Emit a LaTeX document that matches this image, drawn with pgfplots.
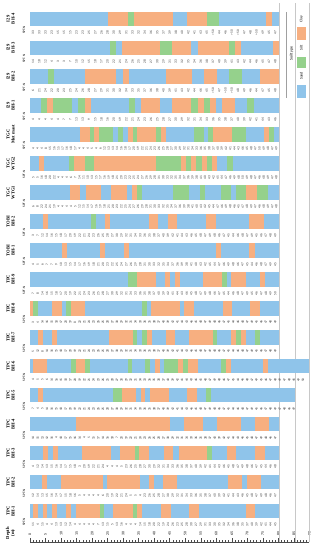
\documentclass[border=0pt]{standalone}
\usepackage{fontspec}
\setmainfont{Liberation Serif}
\newfontfamily\calfont{Carlito}
\usepackage{pgfplots}
\pgfplotsset{compat=1.18}
\definecolor{sandc}{HTML}{8FC4EA}
\definecolor{siltc}{HTML}{95D18C}
\definecolor{clayc}{HTML}{F7AF80}
\definecolor{gridc}{HTML}{C8C8C8}
\newcommand\sptfont{\calfont\fontsize{3.4}{3.6}\selectfont}
\newcommand\lblfont{\bfseries\fontsize{4.6}{5}\selectfont}
\newcommand\smallfont{\calfont\fontsize{3.8}{4}\selectfont}
\pgfplotsset{seg/.style={line width=14.5pt, line cap=butt, unbounded coords=jump, mark=none, forget plot}}
\tikzset{rowlab/.style={rotate=90, align=center, font=\lblfont, inner sep=0pt},
  sptlab/.style={rotate=90, font=\calfont\fontsize{3.4}{3.6}\selectfont, inner sep=0pt},
  legtxt/.style={rotate=90, font=\calfont\fontsize{3.8}{4}\selectfont, inner sep=0pt}}
% #1 row, #2 spacing, #3 first depth, #4 end depth, #5 values
\newcommand{\spt}[5]{%
 \addplot[only marks, mark=none, forget plot, nodes near coords, point meta=explicit symbolic,
   restrict x to domain=0:#4,
   nodes near coords style={rotate=90, anchor=center, font=\sptfont, inner sep=0pt, text=black!80}]
   table[x expr=\coordindex*#2+#3, y expr=#1-0.48, meta=n, row sep=\\]{n\\#5};}
\newcommand{\rl}[2]{\node[rowlab] at (axis cs:-6.28,#1) {#2};\node[sptlab] at (axis cs:-1.93,#1-0.38) {SPT-N};}
\begin{document}
\begin{tikzpicture}
\begin{axis}[
  scale only axis, width=279.3pt, height=537pt,
  xmin=0, xmax=90, ymin=-0.07, ymax=18.48,
  clip=false,
  axis x line*=bottom, axis y line=none,
  x axis line style={-, line width=0.4pt, black!70},
  xtick={0,5,...,90}, minor x tick num=4,
  xtick align=inside,
  major tick length=4pt, minor tick length=2.3pt,
  every tick/.style={black!70, line width=0.35pt},
  xticklabel style={rotate=90, anchor=west, font=\smallfont, inner sep=0.5pt},
  xticklabel shift=-6pt,
  /pgf/number format/assume math mode=true,
]
% grid lines
\addplot[gridc, line width=0.4pt, mark=none, forget plot, unbounded coords=jump] coordinates {
 (80.3,-0.07) (80.3,18.55) (nan,nan) (85.4,-0.07) (85.4,18.55) (nan,nan) (90,-0.07) (90,18.55)};
% base sand bars (full borehole length)
\addplot[seg, sandc] coordinates {
 (0,18)(80.3,18)(nan,nan)(0,17)(80.3,17)(nan,nan)(0,16)(80.3,16)(nan,nan)(0,15)(80.3,15)(nan,nan)
 (0,14)(80.3,14)(nan,nan)(0,13)(80.3,13)(nan,nan)(0,12)(80.3,12)(nan,nan)(0,11)(80.3,11)(nan,nan)
 (0,10)(80.3,10)(nan,nan)(0,9)(80.3,9)(nan,nan)(0,8)(80.3,8)(nan,nan)(0,7)(80.3,7)(nan,nan)
 (0,6)(90,6)(nan,nan)(0,5)(85.4,5)(nan,nan)(0,4)(80.3,4)(nan,nan)(0,3)(80.3,3)(nan,nan)
 (0,2)(80.3,2)(nan,nan)(0,1)(80.3,1)
};
% clay
\addplot[seg, clayc] coordinates {
 (25,18)(31.5,18)(nan,nan)(33.4,18)(46.2,18)(nan,nan)(50.5,18)(56.9,18)(nan,nan)(75.9,18)(78.1,18)(nan,nan)
 (29.8,17)(41.9,17)(nan,nan)(45.9,17)(52,17)(nan,nan)(54,17)(64.1,17)(nan,nan)(66.1,17)(68.1,17)(nan,nan)(78.2,17)(80.3,17)(nan,nan)
 (17.7,16)(27.8,16)(nan,nan)(29.9,16)(31.9,16)(nan,nan)(43.9,16)(52.1,16)(nan,nan)(56,16)(60.3,16)(nan,nan)(74,16)(80.3,16)(nan,nan)
 (5.6,15)(7.5,15)(nan,nan)(17.7,15)(19.7,15)(nan,nan)(35.9,15)(41.9,15)(nan,nan)(45.9,15)(52,15)(nan,nan)(54,15)(56.1,15)(nan,nan)(57.9,15)(60,15)(nan,nan)(61.7,15)(66.2,15)(nan,nan)
 (16.1,14)(19.3,14)(nan,nan)(20.7,14)(22.3,14)(nan,nan)(31.6,14)(33.1,14)(nan,nan)(34.6,14)(40.6,14)(nan,nan)(42.2,14)(43.7,14)(nan,nan)(58.9,14)(65,14)(nan,nan)(75.4,14)(77,14)(nan,nan)
 (2.9,13)(4.5,13)(nan,nan)(14.2,13)(17.7,13)(nan,nan)(20.7,13)(40.6,13)(nan,nan)(48.7,13)(50.1,13)(nan,nan)(51.9,13)(53.6,13)(nan,nan)(55.3,13)(57,13)(nan,nan)(58.6,13)(60.3,13)(nan,nan)
 (12.9,12)(16.2,12)(nan,nan)(17.9,12)(22.9,12)(nan,nan)(26.1,12)(31.3,12)(nan,nan)(32.9,12)(34.6,12)(nan,nan)(69.7,12)(73.1,12)(nan,nan)
 (4.2,11)(5.7,11)(nan,nan)(24.2,11)(25.9,11)(nan,nan)(38.2,11)(41.2,11)(nan,nan)(44.4,11)(47.5,11)(nan,nan)(56.8,11)(59.9,11)(nan,nan)(70.7,11)(75.4,11)(nan,nan)
 (10.4,10)(12,10)(nan,nan)(22.7,10)(24.3,10)(nan,nan)(30.4,10)(32,10)(nan,nan)(59.8,10)(61.5,10)(nan,nan)(70.7,10)(72.5,10)(nan,nan)
 (34.6,9)(40.6,9)(nan,nan)(43.6,9)(45.2,9)(nan,nan)(46.7,9)(48.2,9)(nan,nan)(55.7,9)(61.9,9)(nan,nan)(64.9,9)(69.5,9)(nan,nan)(74,9)(75.6,9)(nan,nan)
 (0,8)(1.1,8)(nan,nan)(7.1,8)(10.2,8)(nan,nan)(13.1,8)(17.7,8)(nan,nan)(39.1,8)(48.2,8)(nan,nan)(49.7,8)(52.8,8)(nan,nan)(62.1,8)(65.1,8)(nan,nan)(70.9,8)(74.1,8)(nan,nan)
 (2.6,7)(4.1,7)(nan,nan)(7.1,7)(8.8,7)(nan,nan)(25.5,7)(33.1,7)(nan,nan)(37.7,7)(39.2,7)(nan,nan)(43.7,7)(46.8,7)(nan,nan)(51.3,7)(58.9,7)(nan,nan)(64.9,7)(66.5,7)(nan,nan)(68,7)(69.6,7)(nan,nan)
 (1.1,6)(5.6,6)(nan,nan)(14.7,6)(17.8,6)(nan,nan)(40.3,6)(41.9,6)(nan,nan)(47.8,6)(49.4,6)(nan,nan)(50.8,6)(54,6)(nan,nan)(63,6)(64.6,6)(nan,nan)(75,6)(76.6,6)(nan,nan)
 (2.6,5)(4.2,5)(nan,nan)(29.8,5)(34.3,5)(nan,nan)(35.8,5)(37.2,5)(nan,nan)(38.6,5)(44.9,5)(nan,nan)(50.7,5)(53.7,5)(nan,nan)
 (14.7,4)(45.2,4)(nan,nan)(49.6,4)(55.7,4)(nan,nan)(60.3,4)(68,4)(nan,nan)(72.5,4)(77.1,4)(nan,nan)
 (4.3,3)(5.8,3)(nan,nan)(7.3,3)(8.9,3)(nan,nan)(16.6,3)(26,3)(nan,nan)(29,3)(33.7,3)(nan,nan)(35.2,3)(38.5,3)(nan,nan)(43.1,3)(46.2,3)(nan,nan)(47.9,3)(57.1,3)(nan,nan)(63.4,3)(66.4,3)(nan,nan)(72.6,3)(75.8,3)(nan,nan)
 (3.9,2)(5.6,2)(nan,nan)(10.1,2)(23.5,2)(nan,nan)(24.9,2)(35.4,2)(nan,nan)(38.3,2)(40,2)(nan,nan)(43,2)(47.5,2)(nan,nan)(63.8,2)(68.4,2)(nan,nan)(70,2)(74.5,2)(nan,nan)
 (1.1,1)(2.6,1)(nan,nan)(4.1,1)(5.6,1)(nan,nan)(7.1,1)(8.7,1)(nan,nan)(11.7,1)(13.2,1)(nan,nan)(14.8,1)(22.4,1)(nan,nan)(26.9,1)(33.2,1)(nan,nan)(34.6,1)(36.2,1)(nan,nan)(42.3,1)(45.3,1)(nan,nan)(51.3,1)(54.5,1)(nan,nan)(69.6,1)(72.6,1)
};
% silt
\addplot[seg, siltc] coordinates {
 (31.5,18)(33.4,18)(nan,nan)(56.9,18)(61,18)(nan,nan)
 (25.8,17)(27.7,17)(nan,nan)(41.9,17)(45.9,17)(nan,nan)(64.1,17)(66.1,17)(nan,nan)
 (5.7,16)(7.6,16)(nan,nan)(64.1,16)(68.2,16)(nan,nan)
 (3.5,15)(5.6,15)(nan,nan)(7.5,15)(13.6,15)(nan,nan)(15.6,15)(17.7,15)(nan,nan)(31.9,15)(33.8,15)(nan,nan)(52,15)(54,15)(nan,nan)(56.1,15)(57.9,15)(nan,nan)(69.9,15)(72.1,15)(nan,nan)
 (19.3,14)(20.7,14)(nan,nan)(22.3,14)(26.9,14)(nan,nan)(28.5,14)(30.1,14)(nan,nan)(33.1,14)(34.6,14)(nan,nan)(40.6,14)(42.2,14)(nan,nan)(52.8,14)(55.9,14)(nan,nan)(57.3,14)(58.9,14)(nan,nan)(65,14)(69.5,14)(nan,nan)(77,14)(78.5,14)(nan,nan)
 (12.7,13)(14.2,13)(nan,nan)(17.7,13)(20.7,13)(nan,nan)(40.6,13)(48.7,13)(nan,nan)(50.1,13)(51.9,13)(nan,nan)(53.6,13)(55.3,13)(nan,nan)(57,13)(58.6,13)(nan,nan)(63.6,13)(65.3,13)(nan,nan)
 (34.6,12)(36.2,12)(nan,nan)(46.2,12)(51.3,12)(nan,nan)(54.7,12)(56.4,12)(nan,nan)(61.4,12)(64.8,12)(nan,nan)(66.4,12)(69.7,12)(nan,nan)(73.1,12)(76.6,12)(nan,nan)
 (19.7,11)(21.2,11)(nan,nan)
 (31.5,9)(34.6,9)(nan,nan)(61.9,9)(63.5,9)(nan,nan)
 (1.1,8)(2.5,8)(nan,nan)(11.7,8)(13.1,8)(nan,nan)(36.1,8)(37.6,8)(nan,nan)
 (33.1,7)(34.6,7)(nan,nan)(36.1,7)(37.7,7)(nan,nan)(58.9,7)(60.4,7)(nan,nan)(66.5,7)(68,7)(nan,nan)(72.6,7)(74.1,7)(nan,nan)
 (13.2,6)(14.7,6)(nan,nan)(17.8,6)(19.3,6)(nan,nan)(31.5,6)(32.8,6)(nan,nan)(37.2,6)(38.8,6)(nan,nan)(43.2,6)(47.8,6)(nan,nan)(49.4,6)(50.8,6)(nan,nan)(61.5,6)(63,6)(nan,nan)
 (26.9,5)(29.8,5)(nan,nan)(56.7,5)(58.4,5)(nan,nan)
 (33.7,3)(35.2,3)(nan,nan)(57.1,3)(58.6,3)(nan,nan)
 (22.4,1)(23.9,1)(nan,nan)(33.2,1)(34.6,1)
};
% SPT-N values
\spt{18}{2}{1}{80}{33\\33\\33\\23\\15\\15\\15\\23\\23\\25\\27\\26\\28\\30\\29\\31\\33\\32\\34\\36\\35\\37\\39\\38\\40\\42\\41\\43\\45\\>50\\44\\46\\>50\\>50\\47\\48\\>50\\49\\45\\47\\}
\spt{17}{2}{1}{80}{14\\18\\12\\4\\3\\3\\7\\10\\12\\15\\18\\17\\20\\22\\21\\24\\26\\25\\28\\27\\30\\29\\31\\33\\32\\35\\34\\36\\38\\37\\40\\39\\41\\43\\42\\44\\46\\45\\47\\48\\}
\spt{16}{2}{1}{80}{6\\21\\24\\22\\20\\23\\25\\24\\26\\28\\27\\29\\31\\30\\32\\34\\33\\35\\37\\36\\38\\40\\39\\41\\43\\42\\44\\46\\45\\>50\\47\\>50\\>50\\48\\49\\46\\44\\47\\45\\48\\}
\spt{15}{2}{1}{80}{4\\4\\4\\4\\4\\7\\7\\13\\13\\9\\15\\18\\16\\20\\19\\22\\21\\24\\23\\26\\25\\28\\27\\30\\29\\32\\31\\34\\33\\36\\35\\38\\37\\40\\39\\42\\41\\44\\43\\46\\}
\spt{14}{1.35}{1.07}{80}{4\\4\\4\\8\\15\\16\\15\\17\\16\\18\\17\\4\\4\\4\\5\\4\\6\\12\\13\\13\\14\\16\\18\\17\\20\\19\\22\\21\\24\\23\\26\\25\\28\\27\\30\\29\\32\\31\\34\\33\\36\\35\\38\\37\\40\\39\\42\\41\\44\\43\\46\\45\\48\\47\\50\\49\\48\\47\\49\\46\\}
\spt{13}{1.35}{1.07}{80}{5\\5\\16\\18\\20\\22\\4\\4\\4\\6\\7\\14\\11\\10\\13\\15\\17\\16\\19\\18\\21\\20\\23\\22\\25\\24\\27\\26\\29\\28\\31\\30\\33\\32\\35\\34\\37\\36\\39\\38\\41\\40\\43\\42\\45\\44\\47\\46\\49\\48\\50\\49\\48\\47\\46\\48\\49\\47\\48\\46\\}
\spt{12}{1.35}{1.07}{80}{6\\8\\22\\24\\21\\19\\4\\4\\4\\4\\5\\12\\15\\14\\17\\16\\19\\18\\21\\20\\23\\22\\25\\24\\27\\26\\29\\28\\31\\30\\33\\32\\35\\34\\37\\36\\39\\38\\41\\40\\43\\42\\45\\44\\47\\46\\49\\48\\46\\45\\47\\48\\49\\47\\46\\48\\49\\47\\48\\46\\}
\spt{11}{1.5}{1}{80}{3\\7\\12\\14\\16\\15\\18\\17\\20\\19\\22\\21\\24\\23\\26\\25\\28\\27\\30\\29\\32\\31\\34\\33\\36\\35\\38\\37\\40\\39\\42\\41\\44\\43\\46\\45\\48\\47\\49\\48\\46\\47\\45\\44\\46\\48\\47\\49\\45\\46\\47\\48\\49\\}
\spt{10}{1.5}{1}{80}{4\\5\\6\\7\\7\\9\\10\\13\\15\\14\\17\\16\\19\\18\\21\\20\\23\\22\\25\\24\\27\\26\\29\\28\\31\\30\\33\\32\\35\\34\\37\\36\\39\\38\\41\\40\\43\\42\\45\\44\\47\\46\\49\\48\\46\\47\\45\\44\\46\\48\\47\\49\\45\\}
\spt{9}{1.5}{1}{80}{7\\8\\14\\16\\15\\18\\17\\20\\19\\22\\21\\24\\23\\26\\25\\28\\27\\30\\29\\32\\31\\34\\33\\36\\35\\38\\37\\40\\39\\42\\41\\44\\43\\46\\45\\48\\47\\49\\48\\46\\47\\45\\44\\46\\48\\47\\49\\45\\46\\47\\48\\49\\50\\}
\spt{8}{1.5}{1}{80}{3\\4\\14\\16\\15\\18\\17\\20\\19\\8\\22\\21\\24\\23\\26\\25\\28\\27\\30\\29\\32\\31\\34\\33\\36\\35\\38\\37\\40\\39\\42\\41\\44\\43\\46\\45\\48\\47\\49\\48\\46\\47\\45\\44\\46\\48\\47\\49\\45\\46\\47\\48\\49\\}
\spt{7}{1.5}{1}{80}{5\\12\\8\\14\\16\\15\\18\\17\\20\\19\\22\\21\\24\\23\\26\\25\\28\\27\\30\\29\\32\\31\\34\\33\\36\\35\\38\\37\\40\\39\\42\\41\\44\\43\\46\\45\\48\\47\\49\\48\\46\\47\\45\\44\\46\\48\\47\\49\\45\\46\\47\\48\\49\\}
\spt{6}{1.5}{1}{90}{4\\5\\5\\6\\14\\16\\15\\18\\17\\20\\19\\22\\21\\24\\23\\26\\25\\28\\27\\30\\29\\32\\31\\34\\33\\36\\35\\38\\37\\40\\39\\42\\41\\44\\43\\46\\45\\48\\47\\49\\48\\46\\47\\45\\44\\46\\48\\47\\49\\45\\46\\47\\48\\49\\47\\48\\46\\49\\50\\}
\spt{5}{1.5}{1}{85.4}{7\\4\\5\\14\\16\\15\\18\\17\\20\\19\\22\\21\\24\\23\\26\\25\\28\\27\\30\\29\\32\\31\\34\\33\\36\\35\\38\\37\\40\\39\\42\\41\\44\\43\\46\\45\\48\\47\\49\\48\\46\\47\\45\\44\\46\\48\\47\\49\\45\\46\\47\\48\\49\\47\\48\\46\\49\\}
\spt{4}{1.5}{1}{80}{14\\15\\13\\12\\16\\4\\18\\17\\15\\16\\14\\4\\5\\15\\17\\14\\16\\18\\7\\20\\19\\22\\21\\24\\23\\26\\25\\28\\27\\30\\29\\32\\31\\34\\33\\36\\35\\38\\37\\40\\39\\42\\41\\44\\43\\46\\45\\48\\47\\49\\48\\46\\47\\}
\spt{3}{1.5}{1}{80}{4\\12\\14\\13\\15\\16\\14\\17\\15\\18\\3\\20\\19\\22\\21\\24\\4\\4\\4\\5\\23\\26\\25\\28\\27\\30\\29\\32\\31\\34\\33\\36\\35\\38\\37\\40\\39\\42\\41\\44\\43\\46\\45\\48\\47\\49\\48\\46\\47\\45\\44\\46\\48\\}
\spt{2}{1.5}{1}{80}{12\\14\\13\\15\\16\\14\\17\\15\\18\\16\\5\\4\\4\\4\\4\\6\\20\\19\\22\\21\\24\\5\\5\\4\\23\\26\\25\\28\\27\\30\\29\\32\\31\\34\\33\\36\\35\\38\\37\\40\\39\\42\\41\\44\\43\\46\\45\\48\\47\\49\\48\\46\\47\\}
\spt{1}{1.5}{1}{80}{11\\4\\15\\4\\4\\13\\13\\12\\14\\4\\4\\4\\4\\4\\7\\13\\15\\5\\13\\16\\4\\4\\4\\14\\15\\18\\20\\22\\19\\24\\26\\23\\25\\28\\30\\27\\29\\31\\33\\30\\35\\32\\34\\36\\38\\35\\37\\40\\39\\42\\41\\44\\45\\}
% row labels
\rl{18}{I29\\BH-4}
\rl{17}{I29\\BH-3}
\rl{16}{I29\\BH-2}
\rl{15}{I29\\BH-1}
\rl{14}{TGC\\Met mast}
\rl{13}{TGC\\WTG2}
\rl{12}{TGC\\WTG1}
\rl{11}{TOBI\\BH-2}
\rl{10}{TOBI\\BH-1}
\rl{9}{TPC\\BH-9}
\rl{8}{TPC\\BH-8}
\rl{7}{TPC\\BH-7}
\rl{6}{TPC\\BH-6}
\rl{5}{TPC\\BH-5}
\rl{4}{TPC\\BH-4}
\rl{3}{TPC\\BH-3}
\rl{2}{TPC\\BH-2}
\rl{1}{TPC\\BH-1}
\node[rowlab] at (axis cs:-6.28,0.24) {Depth\\(m)};
% legend
\draw[gridc!80!black, line width=0.4pt] (axis cs:82.7,18.24) -- (axis cs:82.7,15.27);
\node[rotate=90, font=\calfont\fontsize{4}{4.2}\selectfont, inner sep=0pt] at (axis cs:84.3,16.79) {Soil type};
\fill[clayc] (axis cs:86.0,17.27) rectangle (axis cs:88.8,17.72);
\fill[siltc] (axis cs:86.0,16.30) rectangle (axis cs:88.8,16.68);
\fill[sandc] (axis cs:86.0,15.27) rectangle (axis cs:88.8,15.71);
\node[legtxt] at (axis cs:87.4,17.99) {Clay};
\node[legtxt] at (axis cs:87.4,16.99) {Silt};
\node[legtxt] at (axis cs:87.4,16.03) {Sand};
\coordinate (bl) at (axis cs:-9.668,-0.347);
\coordinate (tr) at (axis cs:92.81,18.65);
\end{axis}
\pgfresetboundingbox
\useasboundingbox (bl) rectangle (tr);
\end{tikzpicture}
\end{document}
